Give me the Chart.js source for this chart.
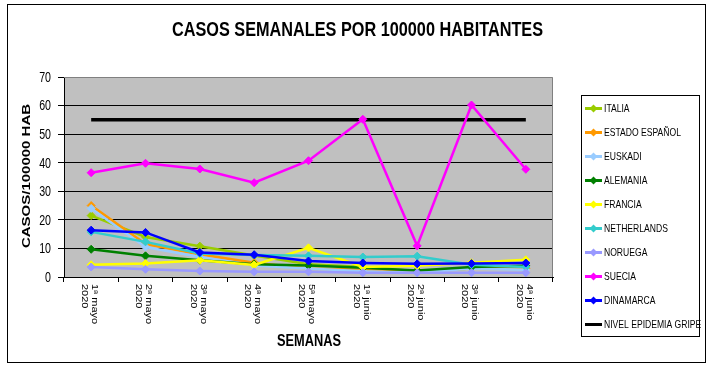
<!DOCTYPE html>
<html>
<head>
<meta charset="utf-8">
<script src="https://cdn.jsdelivr.net/npm/chart.js@4.4.0/dist/chart.umd.min.js"></script>
<style>
  html, body { margin: 0; padding: 0; background: #fff; }
</style>
</head>
<body>
<canvas id="chart" width="712" height="369"></canvas>
<script>
// week labels (two lines each)
const weeks = ['1ª mayo', '2ª mayo', '3ª mayo', '4ª mayo', '5ª mayo', '1ª junio', '2ª junio', '3ª junio', '4ª junio'];
const year = '2020';
const yTicks = [0, 10, 20, 30, 40, 50, 60, 70];

const italia      = [21.5, 14, 10.8, 7.5, 4.5, 3.5, 2, 3, 3.5];
const espana      = [25, 11.5, 8, 5, 3, 2.5, 2, 3, 3];
const euskadi     = [24, 10.5, 7, 4, 3, 2, 1.5, 3, 2.5];
const alemania    = [9.7, 7.4, 5.9, 4.5, 4, 3.2, 2.3, 3.5, 3.9];
const francia     = [4.3, 4.7, 5.9, 4.2, 10.2, 3.5, 3.9, 5, 6];
const netherlands = [15.8, 12.3, 8.2, 7.7, 7.4, 7, 7.3, 4.3, 3.5];
const noruega     = [3.5, 2.7, 2.1, 1.8, 1.8, 1.5, 1.5, 1.5, 1.5];
const suecia      = [36.5, 39.8, 37.8, 33, 40.7, 55.2, 10.9, 60.2, 37.7];
const dinamarca   = [16.4, 15.6, 8.6, 7.8, 5.6, 4.9, 4.6, 4.7, 4.9];
const gripe       = [55, 55, 55, 55, 55, 55, 55, 55, 55];

const series = [
    { label: 'ITALIA', data: italia, color: '#99CC00' },
    { label: 'ESTADO ESPAÑOL', data: espana, color: '#FF9900' },
    { label: 'EUSKADI', data: euskadi, color: '#99CCFF' },
    { label: 'ALEMANIA', data: alemania, color: '#008000' },
    { label: 'FRANCIA', data: francia, color: '#FFFF00' },
    { label: 'NETHERLANDS', data: netherlands, color: '#33CCCC' },
    { label: 'NORUEGA', data: noruega, color: '#9999FF' },
    { label: 'SUECIA', data: suecia, color: '#FF00FF' },
    { label: 'DINAMARCA', data: dinamarca, color: '#0000FF' },
    { label: 'NIVEL EPIDEMIA GRIPE', data: gripe, color: '#000000', noMarker: true }
];

const FONT = "'Liberation Sans', Arial, sans-serif";
const SX = 0.76; // the original picture is squeezed sideways

// draw text squeezed horizontally, optionally rotated
function drawText(ctx, text, x, y, font, align, sx, rot, width) {
    ctx.save();
    ctx.font = font;
    ctx.fillStyle = '#000';
    ctx.textAlign = align;
    ctx.translate(x, y);
    if (width) sx = width / ctx.measureText(text).width;
    ctx.scale(sx, 1);
    if (rot) ctx.rotate(rot);
    ctx.fillText(text, 0, 0);
    ctx.restore();
}

const frame = {
    id: 'frame',
    beforeDraw(chart) {
        const { ctx, chartArea: a } = chart;
        ctx.save();
        ctx.fillStyle = '#fff';
        ctx.fillRect(0, 0, chart.width, chart.height);
        ctx.fillStyle = '#C0C0C0';
        ctx.fillRect(a.left, a.top, a.right - a.left, a.bottom - a.top);
        ctx.strokeStyle = '#000';
        ctx.lineWidth = 1;
        ctx.strokeRect(7.5, 4.5, 698, 358);
        ctx.restore();
    },
    beforeDatasetsDraw(chart) {
        const { ctx, chartArea: a } = chart;
        ctx.save();
        ctx.strokeStyle = '#808080';
        ctx.lineWidth = 1;
        ctx.beginPath();
        ctx.moveTo(a.left, a.top + 0.5);
        ctx.lineTo(a.right - 0.5, a.top + 0.5);
        ctx.lineTo(a.right - 0.5, a.bottom);
        ctx.stroke();
        ctx.restore();
    },
    afterDraw(chart) {
        const { ctx, scales } = chart;
        // titles
        drawText(ctx, 'CASOS SEMANALES POR 100000 HABITANTES', 357.5, 36, 'bold 21px ' + FONT, 'center', 1, 0, 371);
        drawText(ctx, 'SEMANAS', 309, 346, 'bold 16px ' + FONT, 'center', 1, 0, 64);
        drawText(ctx, 'CASOS/100000 HAB', 30, 176, 'bold 15px ' + FONT, 'center', SX, -Math.PI / 2);

        // y tick labels
        ctx.textBaseline = 'middle';
        yTicks.forEach(v => {
            drawText(ctx, String(v), 51, scales.y.getPixelForValue(v) + 1, '14px ' + FONT, 'right', SX);
        });
        // x tick labels, rotated clockwise
        weeks.forEach((w, i) => {
            const x = scales.x.getPixelForTick(i);
            drawText(ctx, w, x + 3, 284, '11px ' + FONT, 'left', SX, Math.PI / 2);
            drawText(ctx, year, x - 7, 284, '11px ' + FONT, 'left', SX, Math.PI / 2);
        });
        ctx.textBaseline = 'alphabetic';

        // legend
        ctx.save();
        ctx.strokeStyle = '#000';
        ctx.lineWidth = 1;
        ctx.strokeRect(581.5, 95.5, 118, 241);
        series.forEach((s, i) => {
            const y = 108.5 + 24 * i;
            ctx.strokeStyle = s.color;
            ctx.lineWidth = 3;
            ctx.beginPath();
            ctx.moveTo(585, y);
            ctx.lineTo(602, y);
            ctx.stroke();
            if (!s.noMarker) {
                ctx.fillStyle = s.color;
                ctx.beginPath();
                ctx.moveTo(593.5, y - 4);
                ctx.lineTo(597.5, y);
                ctx.lineTo(593.5, y + 4);
                ctx.lineTo(589.5, y);
                ctx.closePath();
                ctx.fill();
            }
            ctx.textBaseline = 'middle';
            drawText(ctx, s.label, 604, y + 0.5, '11px ' + FONT, 'left', 0.78);
        });
        ctx.restore();
    }
};

const datasets = series.map((s, i) => ({
    label: s.label,
    data: s.data,
    borderColor: s.color,
    backgroundColor: s.color,
    pointBackgroundColor: s.color,
    pointBorderColor: s.color,
    borderWidth: s.noMarker ? 3.5 : 2.5,
    pointStyle: 'rectRot',
    pointRadius: s.noMarker ? 0 : 4,
    pointBorderWidth: 1,
    tension: 0,
    order: s.noMarker ? 100 : 20 - i
}));

new Chart(document.getElementById('chart'), {
    type: 'line',
    data: { labels: weeks, datasets: datasets },
    options: {
        responsive: false,
        animation: false,
        layout: { padding: { left: 0, right: 159, top: 77, bottom: 0 } },
        plugins: {
            legend: { display: false },
            title: { display: false },
            tooltip: { enabled: false }
        },
        scales: {
            x: {
                offset: true,
                grid: { offset: true, drawOnChartArea: false, color: '#000', tickLength: 5 },
                border: { color: '#000' },
                ticks: { display: false },
                afterFit: s => { s.height = 92; }
            },
            y: {
                min: 0,
                max: 70,
                ticks: { stepSize: 10, display: false },
                grid: {
                    color: c => (c.tick && c.tick.value === 70) ? 'rgba(0,0,0,0)' : '#000',
                    tickColor: '#000',
                    tickLength: 6
                },
                border: { color: '#000' },
                afterFit: s => { s.width = 64; }
            }
        }
    },
    plugins: [frame]
});
</script>
</body>
</html>
